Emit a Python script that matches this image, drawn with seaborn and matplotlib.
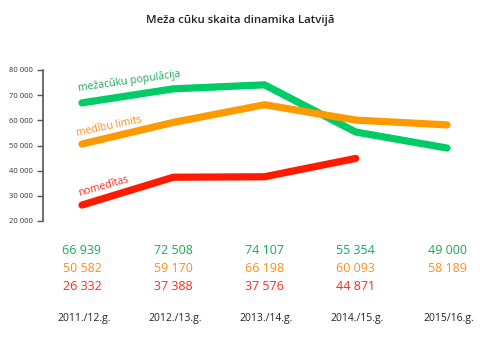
import numpy as np
import pandas as pd
import matplotlib
matplotlib.use("Agg")
import matplotlib.pyplot as plt
import matplotlib.transforms as mtransforms
import seaborn as sns

seasons = ["2011./12.g.", "2012./13.g.", "2013./14.g.", "2014./15.g.", "2015/16.g."]
populacija = [66939, 72508, 74107, 55354, 49000]
limits = [50582, 59170, 66198, 60093, 58189]
nomeditas = [26332, 37388, 37576, 44871, np.nan]
series_names = ["mežacūku populācija", "medību limits", "nomedītas"]
yticks = [20000, 30000, 40000, 50000, 60000, 70000, 80000]

line_colors = ["#00cc66", "#ff9900", "#ff1a00"]
text_colors = ["#1aaa55", "#ff8c1a", "#ff2a1a"]

sns.set_theme(style="white")
plt.rcParams["font.family"] = ["Open Sans", "DejaVu Sans"]

rows = []
for name, vals in zip(series_names, [populacija, limits, nomeditas]):
    for i, v in enumerate(vals):
        rows.append({"x": i, "val": v, "series": name})
df = pd.DataFrame(rows)

fig = plt.figure(figsize=(4.8, 3.39), dpi=100)
ax = fig.add_axes([43 / 480, (339 - 221) / 339, (470 - 43) / 480, 151 / 339])

sns.lineplot(data=df, x="x", y="val", hue="series", hue_order=series_names,
             palette=line_colors, linewidth=5.2, legend=False, ax=ax)
for ln in ax.lines:
    ln.set_solid_capstyle("round")
    ln.set_solid_joinstyle("round")
    ln.set_clip_on(False)

ax.set_xlim(-(82 - 43) / 91.25, (470 - 82) / 91.25)
ax.set_ylim(20000, 80000)
ax.set_yticks(yticks)
ax.set_yticklabels([f"{t // 1000} 000" for t in yticks], fontsize=5.5, color="#333333")
ax.set_xticks([])
ax.set_xlabel("")
ax.set_ylabel("")
for s in ["top", "right", "bottom"]:
    ax.spines[s].set_visible(False)
ax.spines["left"].set_color("#555555")
ax.spines["left"].set_linewidth(1.2)
ax.tick_params(axis="y", left=True, length=4, width=1.0, color="#555555", pad=3)

# series labels on lines
ax.text(-0.04, 72600, series_names[0], color=text_colors[0], fontsize=7.6, rotation=8,
        ha="left", va="center", rotation_mode="anchor")
ax.text(-0.06, 54600, series_names[1], color=text_colors[1], fontsize=7.6, rotation=12,
        ha="left", va="center", rotation_mode="anchor")
ax.text(-0.04, 31000, series_names[2], color=text_colors[2], fontsize=7.6, rotation=16,
        ha="left", va="center", rotation_mode="anchor")

# value table below
trans = mtransforms.blended_transform_factory(ax.transData, fig.transFigure)
row_y = [250, 269, 287]
for vals, col, yy in zip([populacija, limits, nomeditas], text_colors, row_y):
    for i, v in enumerate(vals):
        if np.isnan(v):
            continue
        s = f"{int(v):,}".replace(",", " ")
        ax.text(i, 1 - yy / 339, s, transform=trans, color=col, fontsize=9,
                ha="center", va="center")
for i, lab in enumerate(seasons):
    ax.text(i + 0.02, 1 - 318 / 339, lab, transform=trans, color="#222222", fontsize=7.5,
            ha="center", va="center")

fig.text(0.5, 1 - 20 / 339, "Meža cūku skaita dinamika Latvijā", ha="center", va="center",
         fontsize=8.2, fontweight="semibold", color="#222222")

fig.savefig("out.png", dpi=100)
